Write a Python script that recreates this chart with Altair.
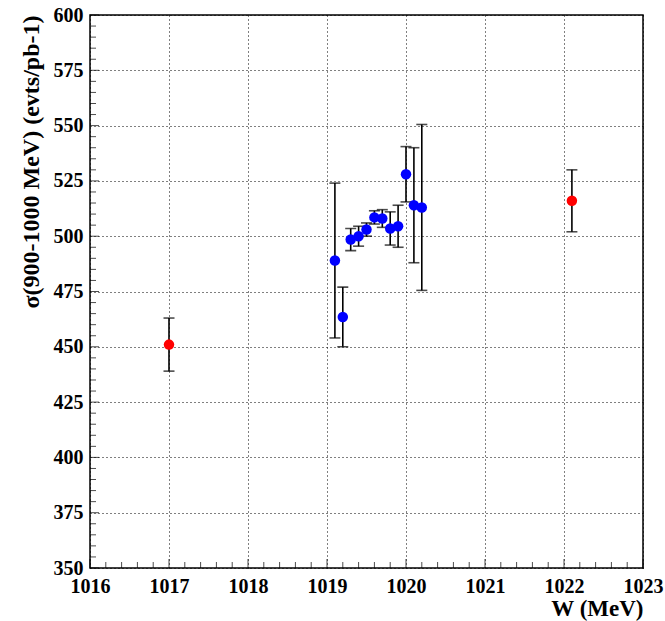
import altair as alt
import pandas as pd

# Scan points: beam energy W (MeV), cross-section and its error
w_blue = [1019.1, 1019.2, 1019.3, 1019.4, 1019.5, 1019.6,
          1019.7, 1019.8, 1019.9, 1020.0, 1020.1, 1020.2]
sig_blue = [489.0, 463.5, 498.5, 500.0, 503.0, 508.5,
            508.0, 503.5, 504.5, 528.0, 514.0, 513.0]
err_blue = [35.0, 13.5, 5.0, 4.5, 3.0, 3.0,
            4.0, 7.5, 9.5, 12.5, 26.0, 37.5]

# Off-peak points
w_red = [1017.0, 1022.1]
sig_red = [451.0, 516.0]
err_red = [12.0, 14.0]

x_labels = [1016, 1017, 1018, 1019, 1020, 1021, 1022, 1023]
y_labels = [350, 375, 400, 425, 450, 475, 500, 525, 550, 575, 600]

X_DOM = [1016, 1023]
Y_DOM = [350, 600]

pts = pd.DataFrame({
    "W": w_blue + w_red,
    "sigma": sig_blue + sig_red,
    "err": err_blue + err_red,
    "set": ["scan"] * len(w_blue) + ["off"] * len(w_red),
})
pts["lo"] = pts["sigma"] - pts["err"]
pts["hi"] = pts["sigma"] + pts["err"]

font = "Liberation Serif"

x_scale = alt.Scale(domain=X_DOM, nice=False, zero=False)
y_scale = alt.Scale(domain=Y_DOM, nice=False, zero=False)

x_axis = alt.Axis(
    values=x_labels, format="d", ticks=False, domain=False,
    grid=True, gridColor="black", gridDash=[1, 3], gridWidth=1, gridOpacity=1,
    labelFont=font, labelFontWeight="bold", labelFontSize=20, labelColor="black",
    labelPadding=8, labelFlush=False,
    title="W (MeV)", titleFont=font, titleFontWeight="bold", titleFontSize=23,
    titleColor="black", titleAnchor="end", titlePadding=1,
)
y_axis = alt.Axis(
    values=y_labels, format="d", ticks=False, domain=False,
    grid=True, gridColor="black", gridDash=[1, 3], gridWidth=1, gridOpacity=1,
    labelFont=font, labelFontWeight="bold", labelFontSize=20, labelColor="black",
    labelPadding=7, labelFlush=False,
    title="σ(900-1000 MeV) (evts/pb-1)", titleFont=font, titleFontWeight="bold",
    titleFontSize=24, titleColor="black", titleAnchor="end", titlePadding=10,
)

base = alt.Chart(pts)

# invisible layer that carries the axes and grid
axes = base.mark_point(opacity=0).encode(
    x=alt.X("W:Q", scale=x_scale, axis=x_axis),
    y=alt.Y("sigma:Q", scale=y_scale, axis=y_axis),
)

bars = base.mark_rule(color="black", strokeWidth=1.6).encode(
    x=alt.X("W:Q", scale=x_scale),
    y=alt.Y("lo:Q", scale=y_scale),
    y2="hi:Q",
)
cap_lo = base.mark_tick(color="black", orient="horizontal", size=11, thickness=1.6).encode(
    x=alt.X("W:Q", scale=x_scale),
    y=alt.Y("lo:Q", scale=y_scale),
)
cap_hi = base.mark_tick(color="black", orient="horizontal", size=11, thickness=1.6).encode(
    x=alt.X("W:Q", scale=x_scale),
    y=alt.Y("hi:Q", scale=y_scale),
)

dots = base.mark_circle(size=110, opacity=1).encode(
    x=alt.X("W:Q", scale=x_scale),
    y=alt.Y("sigma:Q", scale=y_scale),
    color=alt.Color("set:N", scale=alt.Scale(domain=["scan", "off"],
                                             range=["#0000ff", "#ff0000"]),
                    legend=None),
)

# inward tick marks along the bottom and left edges of the frame
x_minor = [round(1016 + 0.2 * i, 1) for i in range(36)]
y_minor = [350 + 5 * i for i in range(51)]
xt = pd.DataFrame({"v": x_minor, "major": [abs(v - round(v)) < 1e-6 for v in x_minor]})
yt = pd.DataFrame({"v": y_minor, "major": [v % 25 == 0 for v in y_minor]})

xticks_minor = alt.Chart(xt[~xt["major"]]).mark_tick(
    orient="vertical", size=6, thickness=1, color="black", yOffset=-3
).encode(x=alt.X("v:Q", scale=x_scale), y=alt.datum(350, scale=y_scale))
xticks_major = alt.Chart(xt[xt["major"]]).mark_tick(
    orient="vertical", size=9, thickness=1, color="black", yOffset=-4.5
).encode(x=alt.X("v:Q", scale=x_scale), y=alt.datum(350, scale=y_scale))
yticks_minor = alt.Chart(yt[~yt["major"]]).mark_tick(
    orient="horizontal", size=6, thickness=1, color="black", xOffset=3
).encode(y=alt.Y("v:Q", scale=y_scale), x=alt.datum(1016, scale=x_scale))
yticks_major = alt.Chart(yt[yt["major"]]).mark_tick(
    orient="horizontal", size=9, thickness=1, color="black", xOffset=4.5
).encode(y=alt.Y("v:Q", scale=y_scale), x=alt.datum(1016, scale=x_scale))

chart = alt.layer(
    axes, xticks_minor, xticks_major, yticks_minor, yticks_major,
    bars, cap_lo, cap_hi, dots,
).properties(
    width=553, height=553,
    autosize=alt.AutoSizeParams(type="none"),
    padding={"left": 90, "top": 15, "right": 22, "bottom": 53},
    background="white",
).configure_view(
    stroke="black", strokeWidth=1.5,
)

chart.save("out.html", embed_options={"renderer": "svg", "actions": False})
